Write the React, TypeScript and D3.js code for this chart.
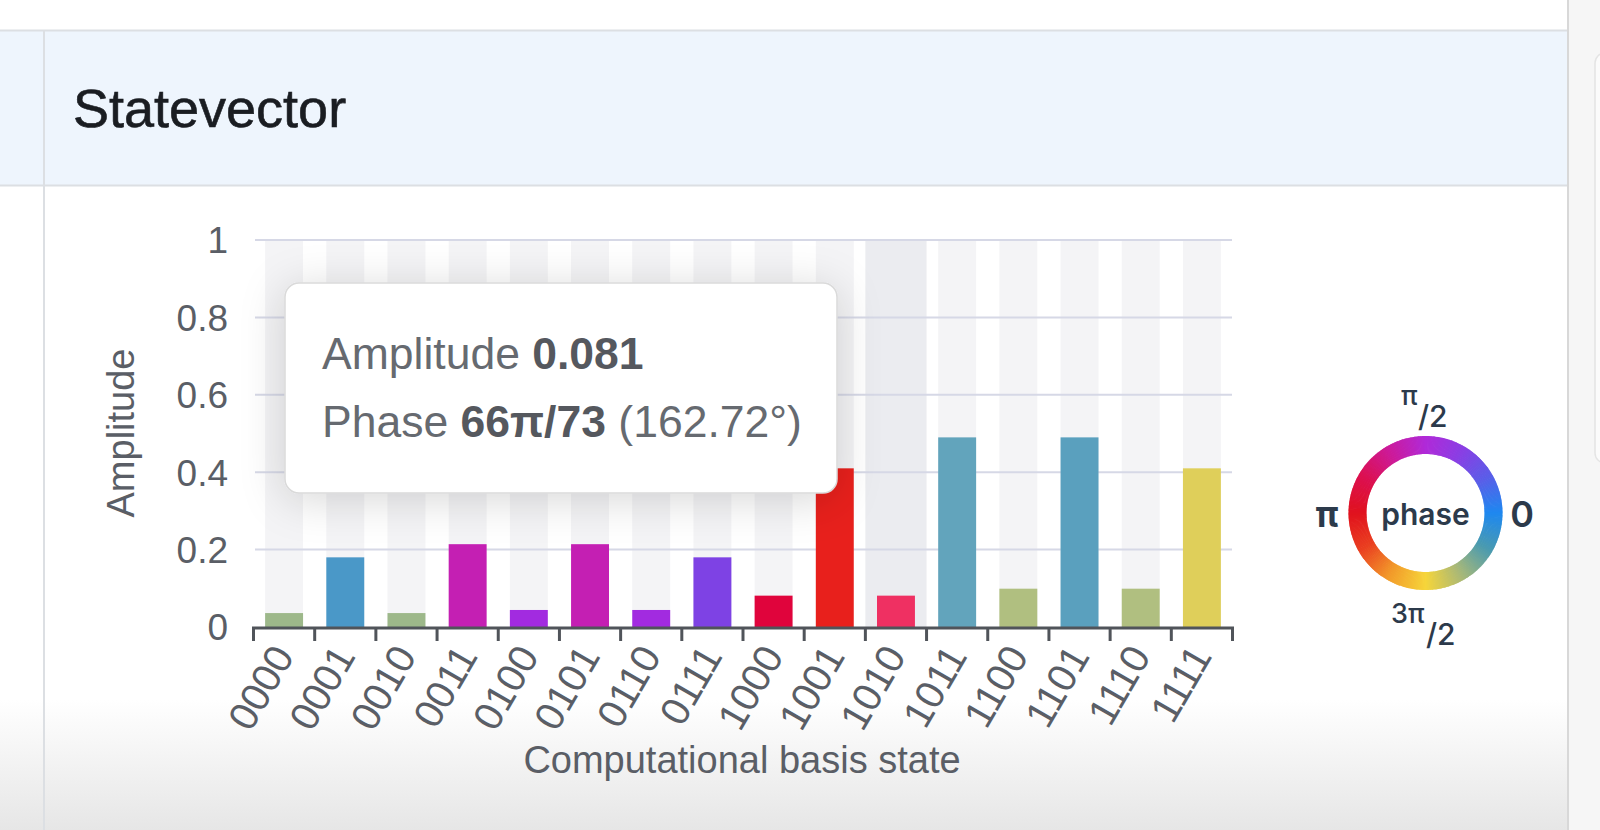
import React from 'react';
import * as d3 from 'd3';

const states = ['0000','0001','0010','0011','0100','0101','0110','0111','1000','1001','1010','1011','1100','1101','1110','1111'];
const amplitudes = [0.036, 0.18, 0.036, 0.214, 0.044, 0.214, 0.044, 0.18, 0.081, 0.41, 0.081, 0.49, 0.099, 0.49, 0.099, 0.41];
const barColors = ['#9db88a','#4a98c8','#9db88a','#c41fb3','#a22be0','#c41fb3','#a22be0','#7e42e4','#e0043c','#e8201c','#ef3062','#62a4bc','#b0bf80','#5aa0be','#b0bf80','#dfcf5a'];
const yTicks = [0, 0.2, 0.4, 0.6, 0.8, 1];
const yTickLabels = ['0', '0.2', '0.4', '0.6', '0.8', '1'];
const hoveredState = '1010';
const tooltipAmplitude = '0.081';
const tooltipPhase = '66π/73';
const tooltipDegrees = '(162.72°)';
const wheelStopsDeg = [0, 30, 60, 90, 120, 150, 180, 210, 240, 270, 300, 330, 360];
const wheelStopColors = ['#1e88f0','#5a5ee8','#8a3ee4','#b02ad8','#cc1a9a','#dc1050','#e0121e','#ea4020','#f29a2a','#f6d53a','#a8b878','#4a9ab0','#1e88f0'];

const FONT = '"Liberation Sans", Arial, Helvetica, sans-serif';
const WFONT = 'Inter, "Noto Sans", sans-serif';

export default function App() {
  const x = d3.scaleBand<string>().domain(states).range([253.5, 1232.5]).paddingInner(0).paddingOuter(0);
  const y = d3.scaleLinear().domain([0, 1]).range([627, 240]);
  const step = x.step();
  const bw = step * 0.62;
  const tickXs = [...states.map((s) => x(s) as number), x.range()[1]];

  const wheelColor = d3.scaleLinear<string>().domain(wheelStopsDeg).range(wheelStopColors).interpolate(d3.interpolateRgb);
  const arc = d3.arc();
  const cx = 1425.5, cy = 513, rOut = 77, rIn = 59;
  const segs = d3.range(0, 360, 1);

  return (
    <svg width={1600} height={830} style={{ position: 'fixed', left: 0, top: 0, background: '#fff' }}>
      <defs>
        <linearGradient id="bottomFade" x1="0" y1="0" x2="0" y2="1">
          <stop offset="0" stopColor="#ffffff" />
          <stop offset="1" stopColor="#e6e6e6" />
        </linearGradient>
        <filter id="tipShadow" x="-30%" y="-40%" width="160%" height="180%">
          <feDropShadow dx="0" dy="6" stdDeviation="22" floodColor="#000" floodOpacity="0.16" />
        </filter>
      </defs>
      {/* page background */}
      <rect x={0} y={0} width={1600} height={830} fill="#ffffff" />
      <rect x={0} y={700} width={1600} height={130} fill="url(#bottomFade)" />
      <rect x={1569} y={0} width={31} height={830} fill="#f6f6f6" />
      <rect x={1595} y={53} width={20} height={410} rx={10} fill="#fbfbfb" stroke="#e4e4e4" strokeWidth={1.5} />
      {/* header */}
      <rect x={0} y={31} width={1568} height={154} fill="#eef5fd" />
      <line x1={0} x2={1568} y1={30.5} y2={30.5} stroke="#dcdfe3" strokeWidth={2} />
      <line x1={0} x2={1568} y1={185.5} y2={185.5} stroke="#dcdfe3" strokeWidth={2} />
      <line x1={44} x2={44} y1={31} y2={830} stroke="#dcdfe3" strokeWidth={2} />
      <line x1={1568} x2={1568} y1={0} y2={830} stroke="#d8d8d8" strokeWidth={2} />
      <text x={73} y={127} fontFamily={FONT} fontSize={54} fill="#1a1d22" stroke="#1a1d22" strokeWidth={0.6}>Statevector</text>

      {/* stripes */}
      {states.map((s) => (
        <rect key={'st' + s} x={(x(s) as number) + (step - bw) / 2} y={y(1)} width={bw} height={y(0) - y(1)} fill="#f4f4f6" />
      ))}
      <rect x={x(hoveredState) as number} y={y(1)} width={step} height={y(0) - y(1)} fill="#ebecf0" />
      {/* gridlines */}
      {yTicks.filter((t) => t > 0).map((t) => (
        <line key={'g' + t} x1={255} x2={1232} y1={y(t)} y2={y(t)} stroke="#d6d8e6" strokeWidth={2} />
      ))}
      {/* y labels */}
      {yTicks.map((t, i) => (
        <text key={'yl' + t} x={228} y={y(t)} dy="0.36em" textAnchor="end" fontFamily={FONT} fontSize={37} fill="#5a5e66">{yTickLabels[i]}</text>
      ))}
      <text transform={`translate(134,433) rotate(-90)`} textAnchor="middle" fontFamily={FONT} fontSize={38} fill="#5a5e66">Amplitude</text>
      {/* bars */}
      {states.map((s, i) => (
        <rect key={'b' + s} x={(x(s) as number) + (step - bw) / 2} y={y(amplitudes[i])} width={bw} height={y(0) - y(amplitudes[i])} fill={barColors[i]} />
      ))}
      {/* x axis */}
      <line x1={tickXs[0] - 1.5} x2={tickXs[tickXs.length - 1] + 1.5} y1={628} y2={628} stroke="#50545a" strokeWidth={3} />
      {tickXs.map((tx, i) => (
        <line key={'t' + i} x1={tx} x2={tx} y1={628} y2={641} stroke="#50545a" strokeWidth={3} />
      ))}
      {states.map((s) => {
        const xc = (x(s) as number) + step / 2;
        return (
          <text key={'xl' + s} transform={`translate(${xc + 11},656) rotate(-60)`} textAnchor="end" fontFamily={FONT} fontSize={40} fill="#5a5e66">{s}</text>
        );
      })}
      <text x={742} y={773} textAnchor="middle" fontFamily={FONT} fontSize={38} fill="#5a5e66">Computational basis state</text>

      {/* tooltip */}
      <rect x={285} y={283} width={552} height={210} rx={14} fill="#ffffff" stroke="#dadada" strokeWidth={1.5} filter="url(#tipShadow)" />
      <text x={322} y={369} fontFamily={FONT} fontSize={44.5} fill="#666a70">
        Amplitude <tspan fontWeight="bold" fill="#55585e">{tooltipAmplitude}</tspan>
      </text>
      <text x={322} y={437} fontFamily={FONT} fontSize={44.5} fill="#666a70">
        Phase <tspan fontWeight="bold" fill="#55585e">{tooltipPhase}</tspan> {tooltipDegrees}
      </text>

      {/* phase wheel */}
      <g transform={`translate(${cx},${cy})`}>
        {segs.map((deg) => {
          const t0 = (deg * Math.PI) / 180;
          const t1 = ((deg + 1.6) * Math.PI) / 180;
          const d = arc({ innerRadius: rIn, outerRadius: rOut, startAngle: Math.PI / 2 - t1, endAngle: Math.PI / 2 - t0 }) as string;
          return <path key={'w' + deg} d={d} fill={wheelColor(deg + 0.5)} />;
        })}
      </g>
      <text x={cx} y={525} textAnchor="middle" fontFamily={WFONT} fontWeight={600} fontSize={30} fill="#2c3a4b">phase</text>
      <text x={1327} y={527} textAnchor="middle" fontFamily={WFONT} fontWeight={700} fontSize={36} fill="#2c3a4b">π</text>
      <text x={1522} y={527} textAnchor="middle" fontFamily={WFONT} fontWeight={600} fontSize={36} fill="#2c3a4b">0</text>
      <text x={1401} y={405} fontFamily={WFONT} fontWeight={500} fontSize={27} fill="#2c3a4b">π</text>
      <text x={1418} y={427} fontFamily={WFONT} fontWeight={500} fontSize={30} fill="#2c3a4b">/2</text>
      <text x={1391} y={623} fontFamily={WFONT} fontWeight={500} fontSize={27} fill="#2c3a4b">3π</text>
      <text x={1426} y={645} fontFamily={WFONT} fontWeight={500} fontSize={30} fill="#2c3a4b">/2</text>
    </svg>
  );
}
